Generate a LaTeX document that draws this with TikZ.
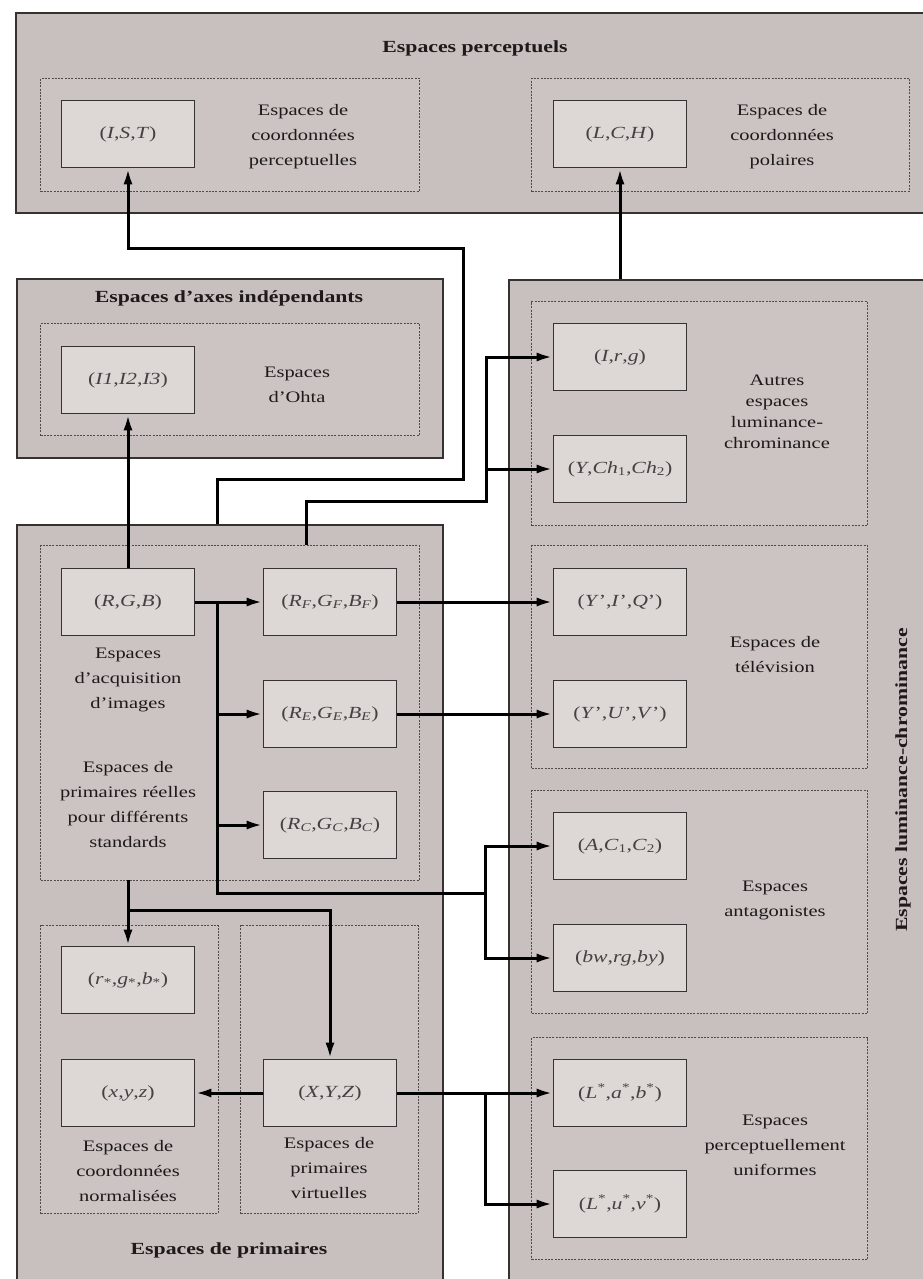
\documentclass[tikz,border=0pt]{standalone}
\usepackage{fontspec}
\setmainfont[FakeStretch=1.28]{Liberation Serif}
\usetikzlibrary{arrows.meta}
\definecolor{outerfill}{RGB}{200,192,190}
\definecolor{groupfill}{RGB}{203,196,194}
\definecolor{boxfill}{RGB}{221,215,213}
\definecolor{bordercol}{RGB}{55,50,50}
\definecolor{dashcol}{RGB}{80,74,74}
\definecolor{txtcol}{RGB}{30,26,26}
\definecolor{lblcol}{RGB}{70,65,65}
\newcommand{\bodyfont}{\fontsize{16}{25}\selectfont}
\newcommand{\lblfont}{\fontsize{17}{20}\selectfont}
\newcommand{\ttlfont}{\fontsize{17}{20}\selectfont\bfseries}
\newcommand{\vi}[1]{\textit{#1}}
\begin{document}
\begin{tikzpicture}[x=1pt,y=-1pt,
  outerbox/.style={draw=bordercol, line width=2pt, fill=outerfill, anchor=north west, inner sep=0pt},
  groupbox/.style={draw=dashcol, line width=1pt, dash pattern=on 2pt off 1.3pt, fill=groupfill, anchor=north west, inner sep=0pt},
  spacebox/.style={draw=bordercol, line width=1.6pt, fill=boxfill, minimum width=133pt, minimum height=67pt, inner sep=0pt, font=\lblfont, text=lblcol},
  txt/.style={align=center, font=\bodyfont, inner sep=0pt, text=txtcol},
  ttl/.style={font=\ttlfont, inner sep=0pt, text=txtcol},
  conn/.style={line width=3pt, draw=black, line join=miter},
  arr/.style={conn, -{Latex[length=16pt,width=9pt]}}]
\fill[white] (0,0) rectangle (923,1279);
\clip (0,0) rectangle (923,1279);
\useasboundingbox (0,0) rectangle (923,1279);

% ---------- containers ----------
\node[outerbox, minimum width=915pt, minimum height=200pt] (perc) at (15,12) {};
\node[outerbox, minimum width=426pt, minimum height=179pt] (axes) at (16,278) {};
\node[outerbox, minimum width=426pt, minimum height=780pt] (prim) at (16,524) {};
\node[outerbox, minimum width=430pt, minimum height=1020pt] (lum) at (508,279) {};

% ---------- groups ----------
\node[groupbox, minimum width=379pt, minimum height=113pt] (gist) at (40,78) {};
\node[groupbox, minimum width=378pt, minimum height=113pt] (glch) at (531,78) {};
\node[groupbox, minimum width=379pt, minimum height=112pt] (gohta) at (40,323) {};
\node[groupbox, minimum width=336pt, minimum height=224pt] (gautres) at (531,301) {};
\node[groupbox, minimum width=336pt, minimum height=223pt] (gtv) at (531,545) {};
\node[groupbox, minimum width=336pt, minimum height=223pt] (gant) at (531,790) {};
\node[groupbox, minimum width=336pt, minimum height=222pt] (gunif) at (531,1037) {};
\node[groupbox, minimum width=379pt, minimum height=335pt] (grgb) at (40,545) {};
\node[groupbox, minimum width=178pt, minimum height=288pt] (gnorm) at (40,925) {};
\node[groupbox, minimum width=178pt, minimum height=288pt] (gvirt) at (240,925) {};

% ---------- titles ----------
\node[ttl] (tperc) at (475,48) {Espaces perceptuels};
\node[ttl] (taxes) at (229,298) {Espaces d'axes indépendants};
\node[ttl] (tprim) at (229,1250) {Espaces de primaires};
\node[ttl, rotate=90] (tlum) at (903,780) {Espaces luminance-chrominance};

% ---------- group texts ----------
\node[txt] (xist) at (303,137) {Espaces de\\coordonnées\\perceptuelles};
\node[txt] (xlch) at (782,137) {Espaces de\\coordonnées\\polaires};
\node[txt] (xohta) at (297,385) {Espaces\\d'Ohta};
\node[txt, font=\fontsize{16}{21}\selectfont] (xautres) at (777,412) {Autres\\espaces\\luminance-\\chrominance};
\node[txt] (xtv) at (775,655) {Espaces de\\télévision};
\node[txt] (xant) at (775,900) {Espaces\\antagonistes};
\node[txt] (xunif) at (775,1145) {Espaces\\perceptuellement\\uniformes};
\node[txt] (xacq) at (128,680) {Espaces\\d'acquisition\\d'images};
\node[txt] (xreel) at (128,805) {Espaces de\\primaires réelles\\pour différents\\standards};
\node[txt] (xnorm) at (128,1171) {Espaces de\\coordonnées\\normalisées};
\node[txt] (xvirt) at (329,1168) {Espaces de\\primaires\\virtuelles};

% ---------- space boxes ----------
\node[spacebox] (ist) at (128,134) {(\vi{I},\vi{S},\vi{T})};
\node[spacebox] (lch) at (620,134) {(\vi{L},\vi{C},\vi{H})};
\node[spacebox] (ohta) at (128,380) {(\vi{I1},\vi{I2},\vi{I3})};
\node[spacebox] (irg) at (620,357) {(\vi{I},\vi{r},\vi{g})};
\node[spacebox] (ych) at (620,469) {(\vi{Y},\vi{Ch}\textsubscript{1},\vi{Ch}\textsubscript{2})};
\node[spacebox] (rgb) at (128,602) {(\vi{R},\vi{G},\vi{B})};
\node[spacebox] (rf) at (330,602) {(\vi{R}\textsubscript{\vi{F}},\vi{G}\textsubscript{\vi{F}},\vi{B}\textsubscript{\vi{F}})};
\node[spacebox] (re) at (330,714) {(\vi{R}\textsubscript{\vi{E}},\vi{G}\textsubscript{\vi{E}},\vi{B}\textsubscript{\vi{E}})};
\node[spacebox] (rc) at (330,825) {(\vi{R}\textsubscript{\vi{C}},\vi{G}\textsubscript{\vi{C}},\vi{B}\textsubscript{\vi{C}})};
\node[spacebox] (yiq) at (620,602) {(\vi{Y}',\vi{I}',\vi{Q}')};
\node[spacebox] (yuv) at (620,714) {(\vi{Y}',\vi{U}',\vi{V}')};
\node[spacebox] (ac) at (620,846) {(\vi{A},\vi{C}\textsubscript{1},\vi{C}\textsubscript{2})};
\node[spacebox] (bw) at (620,958) {(\vi{bw},\vi{rg},\vi{by})};
\node[spacebox] (lab) at (620,1093) {(\vi{L}\textsuperscript{*},\vi{a}\textsuperscript{*},\vi{b}\textsuperscript{*})};
\node[spacebox] (luv) at (620,1204) {(\vi{L}\textsuperscript{*},\vi{u}\textsuperscript{*},\vi{v}\textsuperscript{*})};
\node[spacebox] (rgbs) at (128,980) {(\vi{r}\textsubscript{*},\vi{g}\textsubscript{*},\vi{b}\textsubscript{*})};
\node[spacebox] (xyzn) at (128,1093) {(\vi{x},\vi{y},\vi{z})};
\node[spacebox] (xyzb) at (330,1093) {(\vi{X},\vi{Y},\vi{Z})};

% ---------- connectors ----------
\coordinate (c1) at (217,524);
\coordinate (c2) at (306,545);
\coordinate (j2) at (486,501);
\coordinate (bus) at (217,893);
\coordinate (j4) at (485,893);
\coordinate (c7) at (128,880);
\coordinate (j7) at (128,910);
\coordinate (j9) at (485,1093);
\coordinate (c10) at (620,279);

\draw[arr] (c1) -- (217,479) -- (463,479) -- (463,248) -- (128,248) -- (ist.south);
\draw[arr] (c2) -- (306,501) -- (j2) |- (irg.west);
\draw[arr] (ych.west -| j2) -- (ych.west);
\draw[arr] (rgb.north) -- (ohta.south);
\draw[arr] (rgb.east) -- (rf.west);
\draw[conn] (rgb.east -| bus) -- (bus) -- (j4);
\draw[arr] (re.west -| bus) -- (re.west);
\draw[arr] (rc.west -| bus) -- (rc.west);
\draw[arr] (j4) |- (ac.west);
\draw[arr] (j4) |- (bw.west);
\draw[arr] (rf.east) -- (yiq.west);
\draw[arr] (re.east) -- (yuv.west);
\draw[arr] (c7) -- (rgbs.north);
\draw[arr] (j7) -| (xyzb.north);
\draw[arr] (xyzb.west) -- (xyzn.east);
\draw[arr] (xyzb.east) -- (lab.west);
\draw[arr] (j9) |- (luv.west);
\draw[arr] (c10) -- (lch.south);
\end{tikzpicture}
\end{document}
